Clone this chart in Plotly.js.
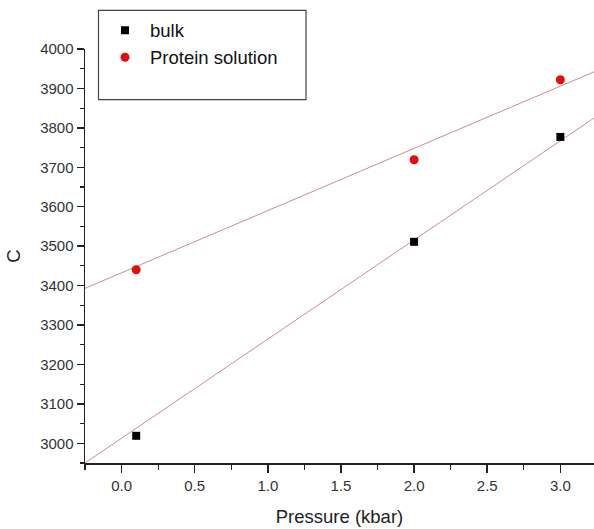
<!DOCTYPE html>
<html>
<head>
<meta charset="utf-8">
<script src="https://cdn.plot.ly/plotly-3.0.1.min.js"></script>
<style>html,body{margin:0;padding:0;background:#fff;}#chart{width:594px;height:529px;}</style>
</head>
<body>
<div id="chart"></div>
<script>
// Data
const pressure = [0.1, 2.0, 3.0];
const bulk = [3019, 3511, 3777];
const protein = [3440, 3719, 3922];
// Linear fit lines (values at the plot's left and right edges)
const fitX = [-0.25, 3.23];
const bulkFit = [2950, 3825];
const proteinFit = [3393, 3942];
const seriesNames = ['bulk', 'Protein solution'];

const fitColor = 'rgb(204,140,140)';
const font = 'Liberation Sans, Arial, sans-serif';

const traces = [
  {x: fitX, y: bulkFit, mode: 'lines', line: {color: fitColor, width: 1}, showlegend: false, hoverinfo: 'skip'},
  {x: fitX, y: proteinFit, mode: 'lines', line: {color: fitColor, width: 1}, showlegend: false, hoverinfo: 'skip'},
  {x: pressure, y: bulk, name: seriesNames[0], mode: 'markers', marker: {symbol: 'square', size: 8, color: '#000'}},
  {x: pressure, y: protein, name: seriesNames[1], mode: 'markers', marker: {symbol: 'circle', size: 9, color: '#e01010'}}
];

const W = 594, H = 529;
const L = 85, R = 0, T = 49.3, B = 529 - 463.3;
const pw = W - L - R, ph = H - T - B;
function px2x(px){ return (px - L) / pw; }
function py2y(py){ return (H - B - py) / ph; }

const layout = {
  width: W, height: H,
  margin: {l: L, r: R, t: T, b: B, pad: 0},
  paper_bgcolor: '#fff', plot_bgcolor: '#fff',
  font: {family: font, color: '#222'},
  showlegend: true,
  legend: {
    x: px2x(100), y: py2y(12), xanchor: 'left', yanchor: 'top',
    bgcolor: 'rgba(0,0,0,0)', borderwidth: 0,
    font: {family: font, size: 18.5, color: '#111'},
    itemwidth: 40, tracegroupgap: 0
  },
  shapes: [{
    type: 'rect', xref: 'paper', yref: 'paper',
    x0: px2x(98.5), x1: px2x(306), y0: py2y(100), y1: py2y(10.7),
    line: {color: '#444', width: 1.2}, fillcolor: 'rgba(0,0,0,0)'
  }],
  xaxis: {
    range: [-0.25, 3.23], showgrid: false, zeroline: false,
    showline: true, linecolor: '#222', linewidth: 1.5,
    ticks: 'outside', ticklen: 8, tickwidth: 1.5, tickcolor: '#222',
    dtick: 0.5, tick0: 0, tickformat: '.1f',
    tickfont: {family: font, size: 15, color: '#333'},
    minor: {dtick: 0.25, tick0: 0, ticks: 'outside', ticklen: 5, tickwidth: 1.2, tickcolor: '#222', showgrid: false},
    title: {text: 'Pressure (kbar)', font: {family: font, size: 18.5, color: '#222'}, standoff: 17},
    fixedrange: true
  },
  yaxis: {
    range: [2950, 4000], showgrid: false, zeroline: false,
    showline: true, linecolor: '#222', linewidth: 1.5,
    ticks: 'outside', ticklen: 7, tickwidth: 1.5, tickcolor: '#222',
    dtick: 100, tick0: 3000,
    tickfont: {family: font, size: 15, color: '#333'},
    minor: {dtick: 50, tick0: 3000, ticks: 'outside', ticklen: 4, tickwidth: 1.2, tickcolor: '#222', showgrid: false},
    title: {text: 'C', font: {family: font, size: 18.5, color: '#222'}, standoff: 14},
    fixedrange: true
  }
};

Plotly.newPlot('chart', traces, layout, {displayModeBar: false, staticPlot: true});
</script>
</body>
</html>
